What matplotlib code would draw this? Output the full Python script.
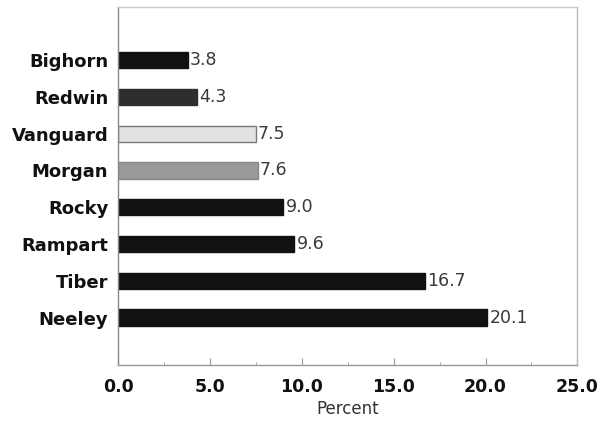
import numpy as np
import matplotlib.pyplot as plt

# data
varieties = ["Bighorn", "Redwin", "Vanguard", "Morgan", "Rocky", "Rampart", "Tiber", "Neeley"]
percent = [3.8, 4.3, 7.5, 7.6, 9.0, 9.6, 16.7, 20.1]
bar_colors = ["#111111", "#2e2e2e", "#e2e2e2", "#9a9a9a", "#111111", "#111111", "#111111", "#111111"]
edge_colors = ["#111111", "#2e2e2e", "#7a7a7a", "#888888", "#111111", "#111111", "#111111", "#111111"]
xticks = [0, 5, 10, 15, 20, 25]

plt.rcParams["font.family"] = ["DejaVu Sans"]

fig = plt.figure(figsize=(5.99, 4.22), dpi=100)
ax = fig.add_axes([0.197, 0.135, 0.767, 0.848])

y = np.arange(len(varieties))
ax.barh(y, percent, height=0.44, color=bar_colors, edgecolor=edge_colors, linewidth=1)

for yi, v in zip(y, percent):
    ax.text(v + 0.12, yi, f"{v:.1f}", va="center", ha="left", fontsize=12.5, color="#3a3a3a")

ax.set_xlim(0, 25)
ax.set_ylim(len(varieties) - 1 + 1.29, -1.44)
ax.set_yticks(y)
ax.set_yticklabels(varieties, fontsize=13, fontweight="bold", color="#111111")
ax.tick_params(axis="y", length=0, pad=7)

ax.set_xticks(xticks)
ax.set_xticklabels([f"{t:.1f}" for t in xticks], fontsize=12.5, fontweight="bold", color="#111111")
ax.set_xticks(np.arange(2.5, 25, 5), minor=True)
ax.tick_params(axis="x", which="major", direction="in", length=5, color="#999999", pad=9)
ax.tick_params(axis="x", which="minor", direction="in", length=2.5, color="#999999")
ax.set_xlabel("Percent", fontsize=12, color="#333333", labelpad=3)

ax.spines["left"].set_color("#888888")
ax.spines["bottom"].set_color("#999999")
ax.spines["right"].set_color("#bbbbbb")
ax.spines["top"].set_color("#c8c8c8")
for side in ax.spines:
    ax.spines[side].set_linewidth(1)

fig.savefig("out.png", dpi=100)
